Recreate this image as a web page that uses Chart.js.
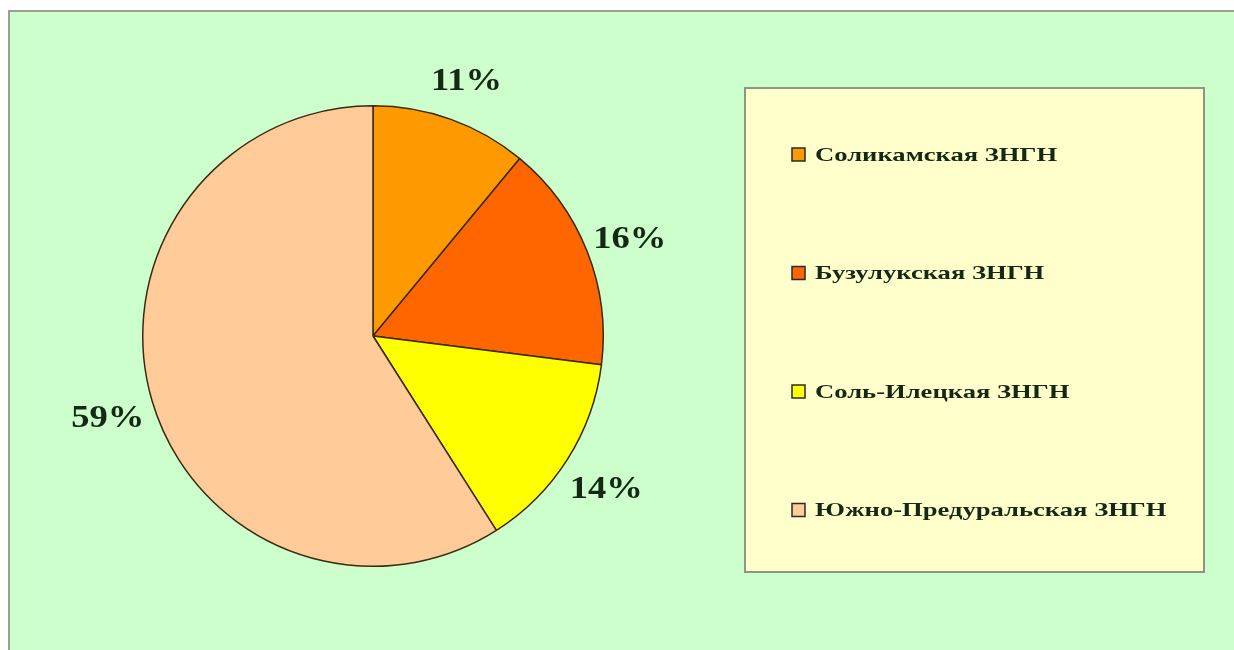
<!DOCTYPE html>
<html>
<head>
<meta charset="utf-8">
<script src="https://cdn.jsdelivr.net/npm/chart.js@4/dist/chart.umd.min.js"></script>
<style>
  html, body { margin: 0; padding: 0; background: #ffffff; }
  #wrap { width: 1234px; height: 650px; }
</style>
</head>
<body>
<div id="wrap"><canvas id="zones" width="1234" height="650"></canvas></div>
<script>
// доли запасов по зонам (%)
const zoneLabels = ["Соликамская ЗНГН", "Бузулукская ЗНГН", "Соль-Илецкая ЗНГН", "Южно-Предуральская ЗНГН"];
const zoneShares = [11, 16, 14, 59];
const zoneColors = ["#FF9900", "#FF6600", "#FFFF00", "#FFCC99"];

const textColor = "#142814";

// фон: зелёная рамка и жёлтая панель легенды
const backdrop = {
    id: 'backdrop',
    beforeDraw(chart) {
        const ctx = chart.ctx;
        ctx.save();
        ctx.fillStyle = "#CCFFCC";
        ctx.fillRect(8, 10, 1240, 650);
        ctx.strokeStyle = "#9a9f94";
        ctx.lineWidth = 2;
        ctx.strokeRect(9, 11, 1240, 650);

        ctx.fillStyle = "#FFFFCC";
        ctx.fillRect(745, 88, 459, 484);
        ctx.strokeStyle = "#8f9486";
        ctx.lineWidth = 2;
        ctx.strokeRect(745, 88, 459, 484);
        ctx.restore();
    }
};

// подписи процентов снаружи круга
const pctLabels = {
    id: 'pctLabels',
    afterDatasetsDraw(chart) {
        const ctx = chart.ctx;
        const meta = chart.getDatasetMeta(0);
        ctx.save();
        ctx.font = 'bold 31px "Liberation Serif", "DejaVu Serif", serif';
        ctx.fillStyle = textColor;
        ctx.textAlign = 'center';
        ctx.textBaseline = 'middle';
        meta.data.forEach(function(arc, i) {
            const p = arc.getProps(['x', 'y', 'startAngle', 'endAngle', 'outerRadius'], true);
            const mid = (p.startAngle + p.endAngle) / 2;
            const r = p.outerRadius + 46;
            ctx.save();
            ctx.translate(p.x + Math.cos(mid) * r, p.y + Math.sin(mid) * r + 6);
            ctx.scale(1.18, 1);
            ctx.fillText(zoneShares[i] + '%', 0, 0);
            ctx.restore();
        });
        ctx.restore();
    }
};

// легенда справа
const sideLegend = {
    id: 'sideLegend',
    afterDraw(chart) {
        const ctx = chart.ctx;
        ctx.save();
        ctx.font = 'bold 19px "Liberation Serif", "DejaVu Serif", serif';
        ctx.textBaseline = 'middle';
        for (let i = 0; i < zoneLabels.length; i++) {
            const y = 155 + i * 118.5;
            ctx.fillStyle = zoneColors[i];
            ctx.fillRect(792, y - 7, 13, 13);
            ctx.strokeStyle = "#2a2a2a";
            ctx.lineWidth = 1.5;
            ctx.strokeRect(792, y - 7, 13, 13);

            ctx.save();
            ctx.translate(815, y);
            ctx.scale(1.4, 1);
            ctx.fillStyle = textColor;
            ctx.fillText(zoneLabels[i], 0, 1);
            ctx.restore();
        }
        ctx.restore();
    }
};

new Chart(document.getElementById('zones'), {
    type: 'pie',
    data: {
        labels: zoneLabels,
        datasets: [{
            data: zoneShares,
            backgroundColor: zoneColors,
            borderColor: "#3a2a10",
            borderWidth: 1.5
        }]
    },
    options: {
        responsive: false,
        animation: false,
        layout: { padding: { left: 142, right: 630, top: 105, bottom: 83 } },
        plugins: {
            legend: { display: false },
            tooltip: { enabled: false }
        }
    },
    plugins: [backdrop, pctLabels, sideLegend]
});
</script>
</body>
</html>
